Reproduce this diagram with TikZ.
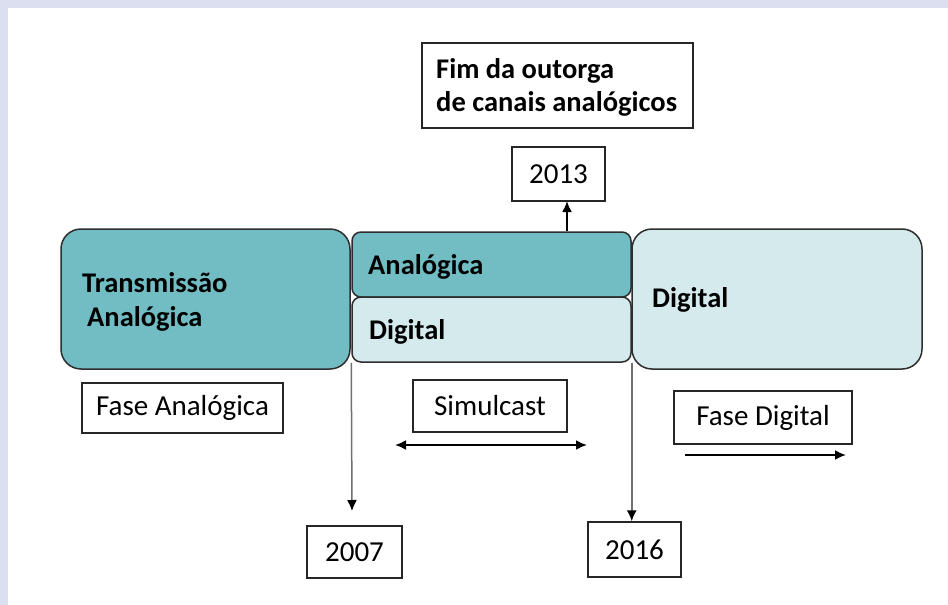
\documentclass[tikz,border=0pt]{standalone}
\usepackage{fontspec}
\setmainfont{Carlito}
\usetikzlibrary{arrows.meta,calc}
\definecolor{lav}{HTML}{DCDFF0}
\definecolor{tealf}{HTML}{71BDC3}
\definecolor{lightf}{HTML}{D5EAED}
\definecolor{edgec}{HTML}{2E2E2E}
\definecolor{grayline}{HTML}{707070}
\begin{document}
\begin{tikzpicture}[x=1pt,y=-1pt,
  bigbox/.style={draw=edgec,line width=1.5pt,rounded corners=20pt,inner sep=0pt},
  midbox/.style={draw=edgec,line width=1.5pt,rounded corners=9pt,inner sep=0pt},
  plainbox/.style={draw=black!85,line width=1.5pt,inner sep=0pt,font=\fontsize{29}{34}\selectfont},
  blabel/.style={anchor=base west,inner sep=0pt,font=\fontsize{28.5}{32}\selectfont\bfseries},
  darr/.style={line width=2pt,-{Latex[length=11pt,width=10pt]}},
  garr/.style={draw=grayline,line width=1.5pt,-{Latex[length=11pt,width=10pt,color=black]}}]
\useasboundingbox (0,0) rectangle (948,605);
\fill[white] (0,0) rectangle (948,605);
\fill[lav] (0,0) rectangle (948,8);
\fill[lav] (0,0) rectangle (8,605);

% main boxes
\node[bigbox,fill=tealf,minimum width=289pt,minimum height=140pt] (ta) at (205.5,299) {};
\node[midbox,fill=tealf,minimum width=279pt,minimum height=65pt] (ana) at (491.5,264.5) {};
\node[midbox,fill=lightf,minimum width=279pt,minimum height=65pt] (dig) at (491.5,329.5) {};
\node[bigbox,fill=lightf,minimum width=290pt,minimum height=140pt] (rd) at (777,299) {};

% labels in main boxes
\node[blabel] (taL1) at (82,292) {Transmissão};
\node[blabel] (taL2) at (87,326) {Analógica};
\node[blabel] (anaL) at (368,274) {Analógica};
\node[blabel] (digL) at (369,339) {Digital};
\node[blabel] (rdL) at (652,307) {Digital};

% top boxes
\node[draw=black!85,line width=1.5pt,minimum width=271pt,minimum height=85pt,inner sep=0pt] (fim) at (557.5,85.5) {};
\node[blabel] (fimL1) at (436,78) {Fim da outorga};
\node[blabel] (fimL2) at (436,111) {de canais analógicos};
\node[plainbox,minimum width=93pt,minimum height=54pt] (y13) at (558.5,174) {2013};

% phase boxes
\node[plainbox,minimum width=201pt,minimum height=50pt] (fa) at (182.5,408) {Fase Analógica};
\node[plainbox,minimum width=154pt,minimum height=52pt] (sim) at (490,406) {Simulcast};
\node[plainbox,minimum width=178pt,minimum height=53pt] (fd) at (763,417.5) {Fase Digital};

% year boxes
\node[plainbox,minimum width=95pt,minimum height=52pt] (y07) at (354.5,552) {2007};
\node[plainbox,minimum width=93pt,minimum height=55pt] (y16) at (634.5,549.5) {2016};

% coordinates for free ends
\coordinate (a13) at (567,201);
\coordinate (t07) at (352,511);
\coordinate (s1) at (395,445);
\coordinate (s2) at (587,445);
\coordinate (d1) at (685,455);
\coordinate (d2) at (846,455);

% connectors
\draw[darr] (ana.north -| a13) -- (a13);
\draw[garr] (dig.south west) -- (t07);
\draw[garr] (dig.south east) -- (dig.south east |- y16.north);
\draw[line width=2pt,{Latex[length=11pt,width=10pt]}-{Latex[length=11pt,width=10pt]}] (s1) -- (s2);
\draw[darr] (d1) -- (d2);
\end{tikzpicture}
\end{document}
